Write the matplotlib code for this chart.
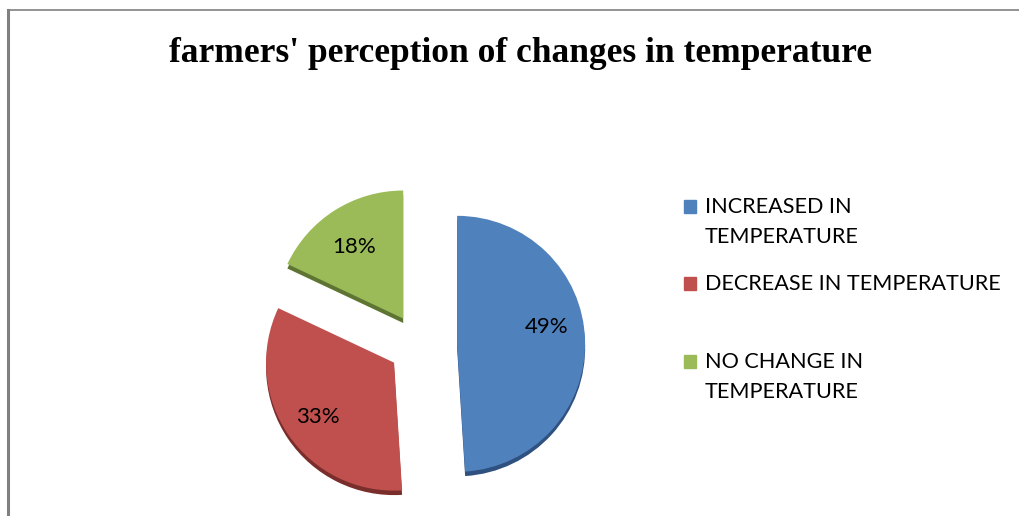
import matplotlib.pyplot as plt
from matplotlib.patches import Rectangle
from matplotlib.lines import Line2D

categories = ['INCREASED IN\nTEMPERATURE', 'DECREASE IN TEMPERATURE', 'NO CHANGE IN\nTEMPERATURE']
shares = [49, 33, 18]
colors = ['#4F81BD', '#C0504D', '#9BBB59']
side_colors = ['#2F5180', '#7A2E2C', '#5E7432']

W, H = 1020, 516
fig = plt.figure(figsize=(W / 100, H / 100), dpi=100)

# chart area border (only left and top are visible in the source)
fig.add_artist(Line2D([8 / W, 8 / W], [0, 1 - 10 / H], color='#808080', lw=2.2))
fig.add_artist(Line2D([8 / W, 1], [1 - 10 / H, 1 - 10 / H], color='#808080', lw=1.2))

fig.text(521 / W, 1 - 62 / H, "farmers' perception of changes in temperature",
         ha='center', va='baseline', family='Liberation Serif', fontweight='bold', fontsize=25.5)

# pie axes, 128 px per data unit, centred at pixel (420, 345)
r = 128
lim = 1.35
cx, cy = 420, H - 345
ax = fig.add_axes([(cx - lim * r) / W, (cy - lim * r) / H, 2 * lim * r / W, 2 * lim * r / H])
explode = [0.29, 0.245, 0.245]

# darker copy underneath gives the thin 3-D edge
ax.pie(shares, explode=explode, colors=side_colors, startangle=90, counterclock=False,
       center=(0, -0.035))
wedges, texts, autotexts = ax.pie(
    shares, explode=explode, colors=colors, startangle=90, counterclock=False,
    autopct='%1.0f%%', pctdistance=0.72,
    textprops=dict(family='Lato', fontsize=16, color='black'))
# nudge the percentage labels to where the source puts them (data units)
nudges = [(-0.02, 0.11), (0.0, -0.02), (0.0, -0.05)]
for t, (dx, dy) in zip(autotexts, nudges):
    x, y = t.get_position()
    t.set_position((x + dx, y + dy))
ax.set_xlim(-lim, lim)
ax.set_ylim(-lim, lim)
ax.axis('off')

# legend drawn by hand so the marker lines up with the first text line
baselines = [213, 290, 368]
line_gap = 30
for label, color, yb in zip(categories, colors, baselines):
    fig.add_artist(Rectangle((684 / W, (H - yb) / H), 12 / W, 13 / H,
                             transform=fig.transFigure, color=color))
    for i, part in enumerate(label.split('\n')):
        fig.text(705 / W, (H - yb - i * line_gap) / H, part, ha='left', va='baseline',
                 family='Lato', fontsize=15.6)

fig.savefig('out.png', dpi=100)
